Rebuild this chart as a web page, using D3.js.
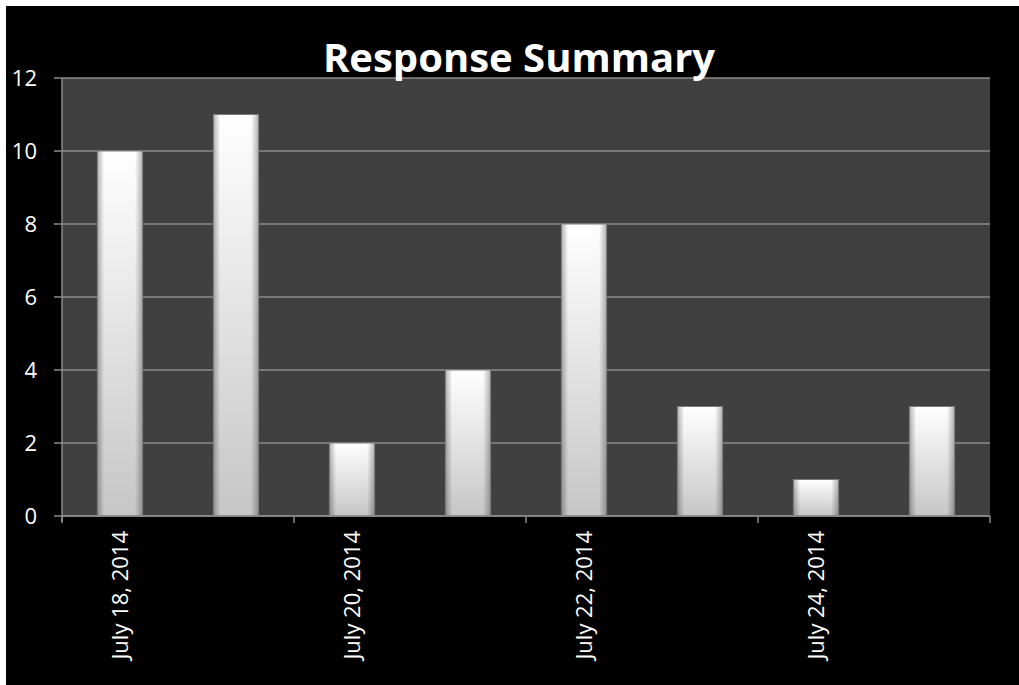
<!DOCTYPE html>
<html><head><meta charset="utf-8">
<script src="https://cdn.jsdelivr.net/npm/d3@7/dist/d3.min.js"></script>
<style>body{margin:0;background:#fff;}svg{display:block;}</style>
</head><body>
<svg id="c" width="1019" height="685"></svg>
<script>
const categories = ["July 18, 2014","July 19, 2014","July 20, 2014","July 21, 2014","July 22, 2014","July 23, 2014","July 24, 2014","July 25, 2014"];
const values = [10, 11, 2, 4, 8, 3, 1, 3];
const yTicks = [0, 2, 4, 6, 8, 10, 12];
const labelEvery = 2;
const title = "Response Summary";

const svg = d3.select("#c");
const W = 1019, H = 685;
svg.append("rect").attr("x",6).attr("y",6).attr("width",W-6).attr("height",H-6).attr("fill","#000");

const m = {l:62, r:990, t:78, b:516};
const x = d3.scaleBand().domain(categories).range([m.l, m.r]).paddingInner(0.61).paddingOuter(0.305);
const y = d3.scaleLinear().domain([0, 12]).range([m.b, m.t]);

const defs = svg.append("defs");
const gv = defs.append("linearGradient").attr("id","gv").attr("x1",0).attr("y1",0).attr("x2",0).attr("y2",1);
gv.append("stop").attr("offset","0%").attr("stop-color","#ffffff");
gv.append("stop").attr("offset","100%").attr("stop-color","#c6c6c6");
const gh = defs.append("linearGradient").attr("id","gh").attr("x1",0).attr("y1",0).attr("x2",1).attr("y2",0);
gh.append("stop").attr("offset","0%").attr("stop-color","#000").attr("stop-opacity",0.28);
gh.append("stop").attr("offset","14%").attr("stop-color","#000").attr("stop-opacity",0.0);
gh.append("stop").attr("offset","84%").attr("stop-color","#000").attr("stop-opacity",0.0);
gh.append("stop").attr("offset","100%").attr("stop-color","#000").attr("stop-opacity",0.28);

// plot area
svg.append("rect").attr("x",m.l).attr("y",m.t).attr("width",m.r-m.l).attr("height",m.b-m.t).attr("fill","#404040");

// gridlines
svg.append("g").selectAll("line").data(yTicks).join("line")
  .attr("x1",m.l-8).attr("x2",m.r).attr("y1",d=>y(d)).attr("y2",d=>y(d))
  .attr("stroke","#8a8a8a").attr("stroke-width",1.5);

// y axis line
svg.append("line").attr("x1",m.l).attr("x2",m.l).attr("y1",m.t).attr("y2",m.b+6).attr("stroke","#8a8a8a").attr("stroke-width",1.5);

// y labels
svg.append("g").selectAll("text").data(yTicks).join("text")
  .attr("x",37).attr("y",d=>y(d)).attr("dy","0.36em").attr("text-anchor","end")
  .attr("fill","#fff").attr("font-family","Open Sans, sans-serif").attr("font-size",22)
  .text(d=>d);

// bars
const bars = svg.append("g");
bars.selectAll("rect.b").data(values).join("rect").attr("class","b")
  .attr("x",(d,i)=>x(categories[i])).attr("y",d=>y(d))
  .attr("width",x.bandwidth()).attr("height",d=>y(0)-y(d))
  .attr("fill","url(#gv)").attr("stroke","#7a7a7a").attr("stroke-width",1);
bars.selectAll("rect.s").data(values).join("rect").attr("class","s")
  .attr("x",(d,i)=>x(categories[i])+0.5).attr("y",d=>y(d)+0.5)
  .attr("width",x.bandwidth()-1).attr("height",d=>y(0)-y(d)-1)
  .attr("fill","url(#gh)");

// x axis line
svg.append("line").attr("x1",m.l).attr("x2",m.r).attr("y1",m.b).attr("y2",m.b).attr("stroke","#8a8a8a").attr("stroke-width",1.5);
// x ticks every 2 categories (at category boundaries)
const step = (m.r - m.l) / categories.length;
const xTickPos = d3.range(0, categories.length+1, labelEvery).map(i => m.l + i*step);
svg.append("g").selectAll("line").data(xTickPos).join("line")
  .attr("x1",d=>d).attr("x2",d=>d).attr("y1",m.b).attr("y2",m.b+7)
  .attr("stroke","#8a8a8a").attr("stroke-width",1.5);

// x labels
svg.append("g").selectAll("text").data(categories.filter((c,i)=>i%labelEvery===0)).join("text")
  .attr("transform",d=>`translate(${x(d)+x.bandwidth()/2},${m.b+15}) rotate(-90)`)
  .attr("text-anchor","end").attr("dy","0.36em")
  .attr("fill","#fff").attr("font-family","Open Sans, sans-serif").attr("font-size",22)
  .text(d=>d);

// title
svg.append("text").attr("x",519).attr("y",72).attr("text-anchor","middle")
  .attr("fill","#fff").attr("font-family","Open Sans, sans-serif").attr("font-weight","bold").attr("font-size",40)
  .text(title);
</script>
</body></html>
